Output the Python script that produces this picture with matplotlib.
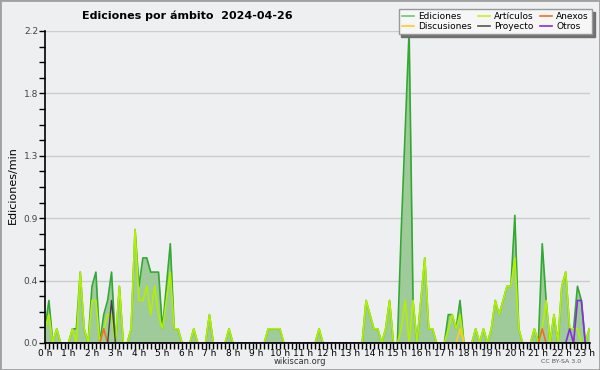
import numpy as np
import matplotlib
matplotlib.use('Agg')
from matplotlib import pyplot as plt
from matplotlib.lines import Line2D
from matplotlib.patches import Rectangle

# edits per minute, one value per 10-minute slot, 00:00 .. 23:10
ediciones = [
    0.1, 0.3, 0.0, 0.1, 0.0, 0.0,   # 0 h
    0.0, 0.1, 0.1, 0.5, 0.1, 0.0,   # 1 h
    0.4, 0.5, 0.0, 0.2, 0.3, 0.5,   # 2 h
    0.0, 0.4, 0.0, 0.0, 0.1, 0.8,   # 3 h
    0.4, 0.6, 0.6, 0.5, 0.5, 0.5,   # 4 h
    0.1, 0.4, 0.7, 0.1, 0.1, 0.0,   # 5 h
    0.0, 0.0, 0.1, 0.0, 0.0, 0.0,   # 6 h
    0.2, 0.0, 0.0, 0.0, 0.0, 0.1,   # 7 h
    0.0, 0.0, 0.0, 0.0, 0.0, 0.0,   # 8 h
    0.0, 0.0, 0.0, 0.1, 0.1, 0.1,   # 9 h
    0.1, 0.0, 0.0, 0.0, 0.0, 0.0,   # 10 h
    0.0, 0.0, 0.0, 0.0, 0.1, 0.0,   # 11 h
    0.0, 0.0, 0.0, 0.0, 0.0, 0.0,   # 12 h
    0.0, 0.0, 0.0, 0.0, 0.3, 0.2,   # 13 h
    0.1, 0.1, 0.0, 0.1, 0.3, 0.0,   # 14 h
    0.0, 0.8, 1.5, 2.2, 0.3, 0.0,   # 15 h
    0.3, 0.6, 0.1, 0.1, 0.0, 0.0,   # 16 h
    0.0, 0.2, 0.2, 0.1, 0.3, 0.0,   # 17 h
    0.0, 0.0, 0.1, 0.0, 0.1, 0.0,   # 18 h
    0.1, 0.3, 0.2, 0.3, 0.4, 0.4,   # 19 h
    0.9, 0.1, 0.0, 0.0, 0.0, 0.1,   # 20 h
    0.0, 0.7, 0.3, 0.0, 0.2, 0.0,   # 21 h
    0.4, 0.5, 0.1, 0.1, 0.4, 0.3,   # 22 h
    0.0, 0.1,                       # 23 h
]
articulos = [
    0.1, 0.2, 0.0, 0.1, 0.0, 0.0,
    0.0, 0.1, 0.0, 0.5, 0.1, 0.0,
    0.3, 0.3, 0.0, 0.1, 0.2, 0.2,
    0.0, 0.4, 0.0, 0.0, 0.1, 0.8,
    0.3, 0.3, 0.4, 0.2, 0.4, 0.2,
    0.1, 0.3, 0.5, 0.1, 0.1, 0.0,
    0.0, 0.0, 0.1, 0.0, 0.0, 0.0,
    0.2, 0.0, 0.0, 0.0, 0.0, 0.1,
    0.0, 0.0, 0.0, 0.0, 0.0, 0.0,
    0.0, 0.0, 0.0, 0.1, 0.1, 0.1,
    0.1, 0.0, 0.0, 0.0, 0.0, 0.0,
    0.0, 0.0, 0.0, 0.0, 0.1, 0.0,
    0.0, 0.0, 0.0, 0.0, 0.0, 0.0,
    0.0, 0.0, 0.0, 0.0, 0.3, 0.2,
    0.1, 0.1, 0.0, 0.1, 0.3, 0.0,
    0.0, 0.1, 0.3, 0.0, 0.3, 0.0,
    0.3, 0.6, 0.1, 0.1, 0.0, 0.0,
    0.0, 0.1, 0.2, 0.1, 0.2, 0.0,
    0.0, 0.0, 0.1, 0.0, 0.1, 0.0,
    0.1, 0.3, 0.2, 0.3, 0.4, 0.4,
    0.6, 0.1, 0.0, 0.0, 0.0, 0.1,
    0.0, 0.1, 0.3, 0.0, 0.2, 0.0,
    0.4, 0.5, 0.1, 0.1, 0.1, 0.0,
    0.0, 0.1,
]
# sparse series as (slot, value)
discusiones_pts = [(106, 0.1)]
anexos_pts = [(15, 0.1), (127, 0.1)]
proyecto_pts = [(17, 0.3)]
otros_pts = [(134, 0.1), (136, 0.3), (137, 0.3)]

hour_labels = [f'{h} h' for h in range(24)]
y_ticks = [0.0, 0.44, 0.88, 1.32, 1.76, 2.2]
y_labels = ['0.0', '0.4', '0.9', '1.3', '1.8', '2.2']

BG = '#eeeff1'


def sparse(pts, n):
    s = np.zeros(n)
    for i, v in pts:
        s[i] = v
    return s


def main():
    n = len(ediciones)
    t = np.arange(n) / 6.0

    fig = plt.figure(figsize=(6, 3.7), dpi=100, facecolor=BG)
    ax = fig.add_axes([45 / 600, 1 - 343 / 370, 545 / 600, 312 / 370])
    ax.set_facecolor(BG)

    ax.fill_between(t, ediciones, color='#9ecb99', lw=0, zorder=1)
    ax.plot(t, ediciones, color='#33a833', lw=1.2, zorder=2)
    ax.plot(t, articulos, color='#b2f000', lw=1.2, zorder=2.1)
    ax.plot(t, sparse(discusiones_pts, n), color='#ffcc22', lw=1.2, zorder=2.2)
    ax.plot(t, sparse(anexos_pts, n), color='#f07020', lw=1.2, zorder=2.2)
    ax.plot(t, sparse(proyecto_pts, n), color='#444444', lw=1.0, zorder=2.2)
    ax.plot(t, sparse(otros_pts, n), color='#8a2be2', lw=1.2, zorder=2.2)

    ax.set_xlim(0, 23.2)
    ax.set_ylim(0, 2.2)
    ax.set_xticks(range(24))
    ax.set_xticklabels(hour_labels)
    ax.set_xticks(np.arange(0, 23.21, 1 / 6), minor=True)
    ax.set_yticks(y_ticks)
    ax.set_yticklabels(y_labels)
    ax.set_yticks(np.arange(0, 2.21, 0.11), minor=True)
    ax.tick_params(which='both', direction='out', length=4, width=1, colors='black',
                   labelsize=6.5, pad=0.5)
    ax.tick_params(axis='y', labelcolor='#444444', pad=1)
    ax.grid(axis='y', color='#cccccc', lw=1)
    ax.set_axisbelow(True)
    for s in ['top', 'right']:
        ax.spines[s].set_visible(False)
    for s in ['left', 'bottom']:
        ax.spines[s].set_linewidth(1.2)
        ax.spines[s].set_zorder(5)

    fig.text(0.312, 0.957, 'Ediciones por ámbito  2024-04-26', ha='center', va='center',
             fontsize=8, weight='bold')
    fig.text(0.022, 0.5, 'Ediciones/min', rotation=90, ha='center', va='center', fontsize=8)
    fig.text(0.5, 0.022, 'wikiscan.org', ha='center', va='center', fontsize=6, color='#333333')
    fig.text(0.935, 0.022, 'CC BY-SA 3.0', ha='center', va='center', fontsize=4.5, color='#555555')

    handles = [
        Line2D([], [], color='#66cc66', lw=1.2),
        Line2D([], [], color='#ffcc22', lw=1.2),
        Line2D([], [], color='#ccee22', lw=1.2),
        Line2D([], [], color='#555555', lw=1.2),
        Line2D([], [], color='#f07020', lw=1.2),
        Line2D([], [], color='#8a2be2', lw=1.2),
    ]
    labels = ['Ediciones', 'Discusiones', 'Artículos', 'Proyecto', 'Anexos', 'Otros']
    leg = fig.legend(handles, labels, loc='upper right', bbox_to_anchor=(0.987, 0.975),
                     ncol=3, fontsize=6.5, frameon=True, fancybox=False,
                     shadow={'facecolor': '#707070', 'edgecolor': '#707070', 'alpha': 1},
                     handlelength=1.3, handletextpad=0.5, columnspacing=0.7,
                     borderpad=0.35, labelspacing=0.1, borderaxespad=0)
    leg.get_frame().set_facecolor('#f6f6f6')
    leg.get_frame().set_edgecolor('#999999')
    leg.get_frame().set_alpha(1)

    fig.patches.append(Rectangle((0, 0), 1, 1, transform=fig.transFigure, fill=False,
                                 edgecolor='#a0a0a0', lw=2))
    fig.savefig('out.png', dpi=100, facecolor=BG)


if __name__ == '__main__':
    main()
